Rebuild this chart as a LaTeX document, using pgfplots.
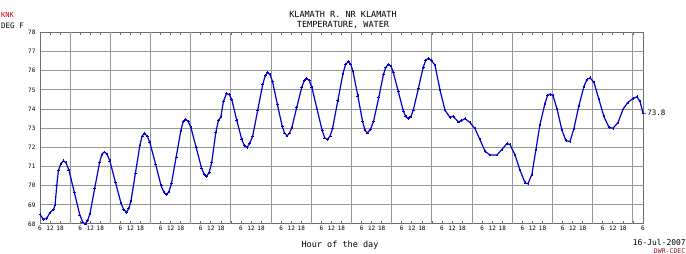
\documentclass[border=0pt]{standalone}
\usepackage{pgfplots}
\pgfplotsset{compat=1.18}
\usepackage{fontspec}
\setmainfont{DejaVu Sans Mono}
\definecolor{lineblue}{RGB}{0,0,205}
\definecolor{gridgray}{RGB}{150,150,150}
\definecolor{framegray}{RGB}{110,110,110}
\definecolor{knkred}{RGB}{200,0,0}
\definecolor{dwrred}{RGB}{150,20,20}
\begin{document}
\begin{tikzpicture}
\useasboundingbox (0pt,0pt) rectangle (686pt,254pt);
\begin{axis}[
  at={(40pt,30pt)}, anchor=south west, scale only axis,
  width=603pt, height=191.5pt,
  xmin=0, xmax=360, ymin=68, ymax=78,
  xtick={0,6,...,360},
  xticklabels={6,12,18,,6,12,18,,6,12,18,,6,12,18,,6,12,18,,6,12,18,,6,12,18,,6,12,18,,6,12,18,,6,12,18,,6,12,18,,6,12,18,,6,12,18,,6,12,18,,6,12,18,,6},
  extra x ticks={18,42,...,354},
  extra x tick labels={},
  extra x tick style={grid=major, major tick length=0pt},
  ytick={68,...,78},
  ymajorgrids=true,
  major grid style={gridgray, line width=1pt},
  axis line style={framegray, line width=1pt},
  tick align=inside,
  major tick length=3pt,
  xtick style={framegray, line width=0.8pt},
  ytick style={draw=none},
  xtick pos=both,
  ytick pos=left,
  tick label style={font=\fontsize{6}{6}\selectfont},
  xticklabel style={yshift=1pt},
  yticklabel style={xshift=-1pt},
  /pgf/number format/assume math mode=true,
  clip=false,
]
\addplot[lineblue, line width=1.2pt, mark=+, mark size=1.4pt, mark options={line width=0.6pt}] coordinates {
(0,68.5) (2,68.25) (4,68.3) (6,68.6) (8,68.75) (9,69.0) (10,70.0) (11,70.8) (12.5,71.15) (14,71.3) (15.5,71.2) (17.25,70.82) (20.5,69.65) (23.75,68.48) (25.5,68.1) (27,68.0) (28.5,68.2) (29.85,68.55) (32.7,69.88) (35.55,71.21) (37,71.65) (38.4,71.76) (40,71.65) (41.7,71.3) (45,70.19) (48.4,69.08) (50,68.75) (51.7,68.62) (53,68.8) (54.35,69.22) (57,70.67) (59.65,72.12) (61,72.6) (62.3,72.72) (64,72.6) (65.6,72.25) (69,71.13) (72.3,70.0) (74,69.65) (75.6,69.53) (77,69.7) (78.45,70.1) (81.3,71.5) (84.15,72.9) (85.5,73.35) (87,73.47) (88.5,73.35) (90.1,73.04) (93.25,71.99) (96.4,70.93) (98,70.6) (99.5,70.5) (101,70.7) (102.5,71.2) (105,72.8) (106.5,73.4) (108,73.6) (109.5,74.4) (111.4,74.82) (113,74.75) (114.5,74.5) (117.5,73.4) (120.5,72.4) (122,72.1) (123.6,72.0) (125.2,72.2) (127,72.6) (130,73.95) (133,75.3) (134.5,75.75) (135.9,75.9) (137.3,75.8) (138.8,75.45) (141.7,74.25) (144.6,73.1) (146,72.75) (147.5,72.6) (149,72.75) (150.4,73.05) (153.3,74.1) (156.3,75.15) (157.8,75.5) (159.2,75.6) (160.7,75.5) (162.3,75.13) (165.4,74.0) (168.5,72.87) (170,72.5) (171.6,72.4) (173.2,72.6) (174.7,73.0) (177.8,74.44) (180.9,75.87) (182.5,76.35) (184,76.47) (185.5,76.35) (186.9,75.95) (189.75,74.69) (192.6,73.35) (194,72.9) (195.5,72.75) (197.3,72.95) (199.1,73.35) (202.25,74.6) (205.1,75.83) (206.5,76.2) (208,76.33) (209.5,76.25) (210.9,75.92) (213.9,74.92) (216.9,73.91) (218.4,73.6) (219.9,73.5) (221.4,73.6) (222.9,73.96) (225.9,75.08) (228.8,76.19) (230.3,76.55) (231.8,76.65) (233.5,76.55) (235.8,76.3) (238.8,75.0) (241.8,73.94) (244.8,73.56) (246.7,73.63) (249.7,73.33) (251.7,73.4) (253.7,73.5) (256.7,73.3) (259.7,72.98) (262.7,72.4) (265.7,71.8) (268.7,71.6) (272.8,71.6) (275.8,71.9) (278.8,72.2) (280.6,72.15) (283.6,71.6) (286.6,70.8) (289.6,70.15) (291.3,70.1) (293.7,70.6) (296.1,71.9) (298.5,73.2) (301.5,74.3) (303,74.7) (304.5,74.78) (306.3,74.7) (308.7,74.0) (311.6,72.9) (314,72.35) (316.4,72.3) (318.8,73.0) (321.8,74.2) (324.8,75.2) (326.6,75.55) (328.4,75.63) (330.7,75.4) (333.7,74.5) (336.7,73.6) (339.7,73.05) (342.1,73.0) (345.1,73.3) (348.1,74.0) (351.0,74.35) (354.0,74.55) (356.4,74.64) (358.2,74.4) (360,73.8)
};
\draw[framegray, line width=0.6pt] (axis cs:360,73.8) -- ++(3pt,0pt) node[right, inner sep=1pt, black, font=\fontsize{7.5}{7.5}\selectfont] {73.8};
\end{axis}
\node[anchor=west, inner sep=0pt, knkred, font=\fontsize{7}{7}\selectfont] at (1pt,239.5pt) {KNK};
\node[anchor=west, inner sep=0pt, font=\fontsize{7.5}{7.5}\selectfont] at (1pt,228pt) {DEG F};
\node[inner sep=0pt, font=\fontsize{8.5}{8.5}\selectfont] at (343pt,240pt) {KLAMATH R. NR KLAMATH};
\node[inner sep=0pt, font=\fontsize{8.5}{8.5}\selectfont] at (343pt,229pt) {TEMPERATURE, WATER};
\node[inner sep=0pt, font=\fontsize{8.5}{8.5}\selectfont] at (340pt,9pt) {Hour of the day};
\node[anchor=east, inner sep=0pt, font=\fontsize{8}{8}\selectfont] at (686pt,12pt) {16-Jul-2007};
\node[anchor=south east, inner sep=0.5pt, dwrred, font=\fontsize{6.5}{6.5}\selectfont] at (686pt,0pt) {DWR-CDEC};
\end{tikzpicture}
\end{document}
